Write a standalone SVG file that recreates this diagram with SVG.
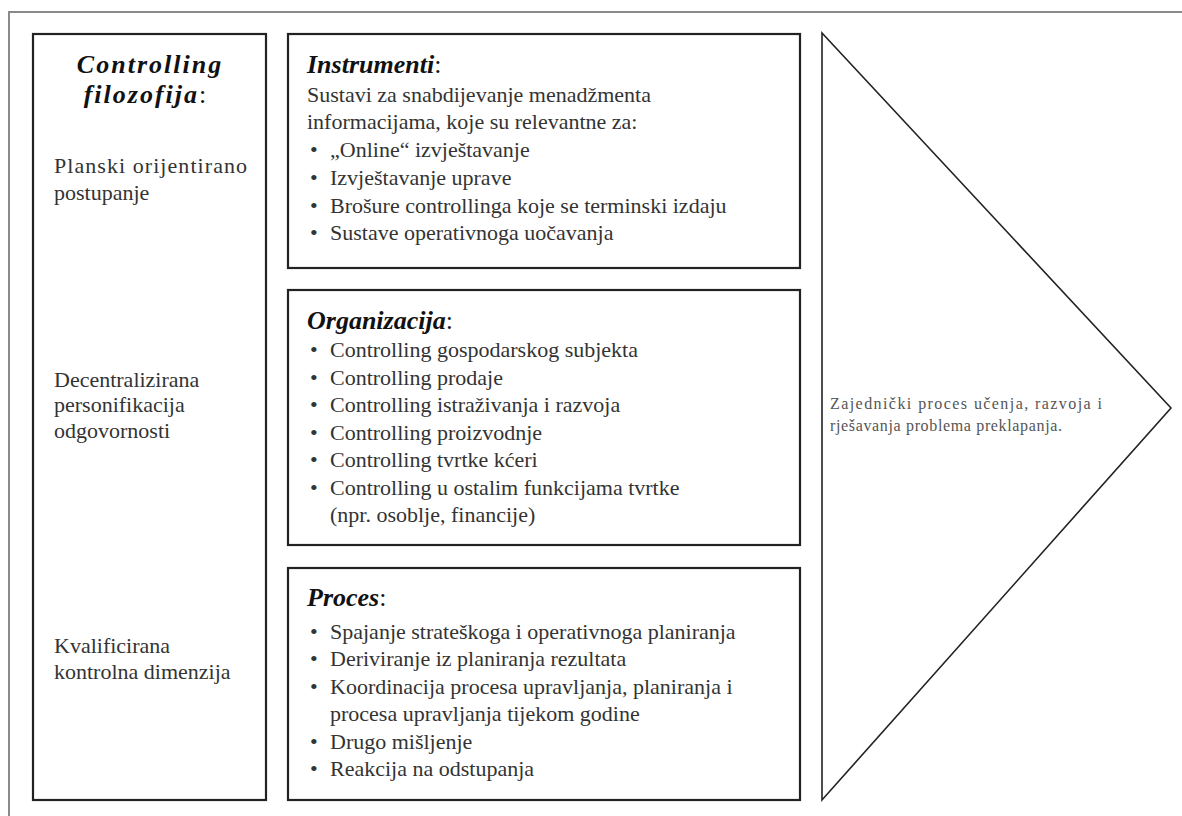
<svg xmlns="http://www.w3.org/2000/svg" width="1182" height="816" viewBox="0 0 1182 816">
<style>
.frame{fill:none;stroke:#8a8a8a;stroke-width:2}
.box{fill:#fff;stroke:#222;stroke-width:2.2}
.tri{fill:#fff;stroke:#222;stroke-width:1.6}
.t{font-family:"Liberation Serif","Times New Roman",serif;font-size:22px;fill:#333}
.h{font-family:"Liberation Serif","Times New Roman",serif;font-size:26px;font-weight:bold;font-style:italic;fill:#111}
.s{font-family:"Liberation Serif","Times New Roman",serif;font-size:16px;fill:#555}
</style>
<rect width="1182" height="816" fill="#fff"/>
<rect class="frame" x="9" y="12" width="1200" height="830"/>
<g id="filozofija">
<rect class="box" x="33" y="34" width="233" height="766"/>
<text class="h" x="150" y="73" text-anchor="middle" letter-spacing="2">Controlling</text>
<text class="h" x="146" y="103" text-anchor="middle" letter-spacing="2">filozofija<tspan font-style="normal" font-weight="normal">:</tspan></text>
<text class="t" x="54" y="173" textLength="193" lengthAdjust="spacing">Planski orijentirano</text>
<text class="t" x="54" y="200">postupanje</text>
<text class="t" x="54" y="387">Decentralizirana</text>
<text class="t" x="54" y="412">personifikacija</text>
<text class="t" x="54" y="438">odgovornosti</text>
<text class="t" x="54" y="653">Kvalificirana</text>
<text class="t" x="54" y="679">kontrolna dimenzija</text>
</g>
<g id="instrumenti">
<rect class="box" x="288" y="34" width="512" height="234"/>
<text class="h" x="307" y="73">Instrumenti<tspan font-style="normal" font-weight="normal">:</tspan></text>
<text class="t" x="307" y="102">Sustavi za snabdijevanje menadžmenta</text>
<text class="t" x="307" y="129">informacijama, koje su relevantne za:</text>
<text class="t" x="310" y="157">•</text><text class="t" x="330" y="157">„Online“ izvještavanje</text>
<text class="t" x="310" y="185">•</text><text class="t" x="330" y="185">Izvještavanje uprave</text>
<text class="t" x="310" y="213">•</text><text class="t" x="330" y="213">Brošure controllinga koje se terminski izdaju</text>
<text class="t" x="310" y="240">•</text><text class="t" x="330" y="240">Sustave operativnoga uočavanja</text>
</g>
<g id="organizacija">
<rect class="box" x="288" y="290" width="512" height="255"/>
<text class="h" x="307" y="329">Organizacija<tspan font-style="normal" font-weight="normal">:</tspan></text>
<text class="t" x="310" y="357">•</text><text class="t" x="330" y="357">Controlling gospodarskog subjekta</text>
<text class="t" x="310" y="385">•</text><text class="t" x="330" y="385">Controlling prodaje</text>
<text class="t" x="310" y="412">•</text><text class="t" x="330" y="412">Controlling istraživanja i razvoja</text>
<text class="t" x="310" y="440">•</text><text class="t" x="330" y="440">Controlling proizvodnje</text>
<text class="t" x="310" y="467">•</text><text class="t" x="330" y="467">Controlling tvrtke kćeri</text>
<text class="t" x="310" y="495">•</text><text class="t" x="330" y="495">Controlling u ostalim funkcijama tvrtke</text>
<text class="t" x="330" y="522">(npr. osoblje, financije)</text>
</g>
<g id="proces">
<rect class="box" x="288" y="568" width="512" height="232"/>
<text class="h" x="307" y="606">Proces<tspan font-style="normal" font-weight="normal">:</tspan></text>
<text class="t" x="310" y="639">•</text><text class="t" x="330" y="639">Spajanje strateškoga i operativnoga planiranja</text>
<text class="t" x="310" y="666">•</text><text class="t" x="330" y="666">Deriviranje iz planiranja rezultata</text>
<text class="t" x="310" y="694">•</text><text class="t" x="330" y="694">Koordinacija procesa upravljanja, planiranja i</text>
<text class="t" x="330" y="721">procesa upravljanja tijekom godine</text>
<text class="t" x="310" y="749">•</text><text class="t" x="330" y="749">Drugo mišljenje</text>
<text class="t" x="310" y="776">•</text><text class="t" x="330" y="776">Reakcija na odstupanja</text>
</g>
<g id="proces-ucenja">
<polygon class="tri" points="822,33 822,800 1171,408"/>
<text class="s" x="830" y="409" textLength="272" lengthAdjust="spacing">Zajednički proces učenja, razvoja i</text>
<text class="s" x="830" y="431" textLength="232" lengthAdjust="spacing">rješavanja problema preklapanja.</text>
</g>
<g id="connectors"></g>
</svg>
